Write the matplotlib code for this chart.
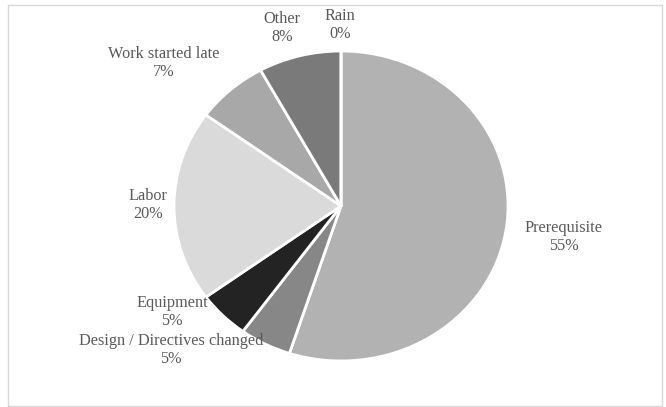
import matplotlib.pyplot as plt
from matplotlib.patches import Rectangle

# slices, clockwise from 12 o'clock
labels = ["Prerequisite", "Design / Directives changed", "Equipment", "Labor",
          "Work started late", "Other", "Rain"]
shares = [55, 5, 5, 20, 7, 8, 0]
colors = ["#b2b2b2", "#878787", "#232323", "#dadada", "#a8a8a8", "#7a7a7a", "#7a7a7a"]

# label centres (data units, radius = 1)
label_pos = [(1.335, -0.20), (-1.018, -0.93), (-1.012, -0.685), (-1.156, 0.006),
             (-1.06, 0.923), (-0.353, 1.148), (-0.006, 1.168)]

plt.rcParams['font.family'] = ['Liberation Serif', 'DejaVu Serif']

fig = plt.figure(figsize=(6.66, 4.07), dpi=100)
ax = fig.add_axes([0, 0, 1, 1])

wedges, texts = ax.pie(shares, colors=colors, startangle=90, counterclock=False,
                       labels=[f"{l}\n{s}%" for l, s in zip(labels, shares)],
                       wedgeprops=dict(edgecolor="white", linewidth=2),
                       textprops=dict(fontsize=11.7, color="#595959"))
for t, (x, y) in zip(texts, label_pos):
    t.set_position((x, y))
    t.set_horizontalalignment("center")
    t.set_verticalalignment("center")
    t.set_linespacing(1.12)

ax.set_aspect("auto")
ax.set_xlim(-2.042, 1.946)
ax.set_ylim(-1.297, 1.329)
ax.axis("off")

# light frame around the chart area
fig.patches.append(Rectangle((8 / 666, 1 / 407), 654 / 666, 401 / 407, transform=fig.transFigure,
                             fill=False, edgecolor="#d9d9d9", linewidth=1))

fig.savefig("out.png", dpi=100, facecolor="white")
